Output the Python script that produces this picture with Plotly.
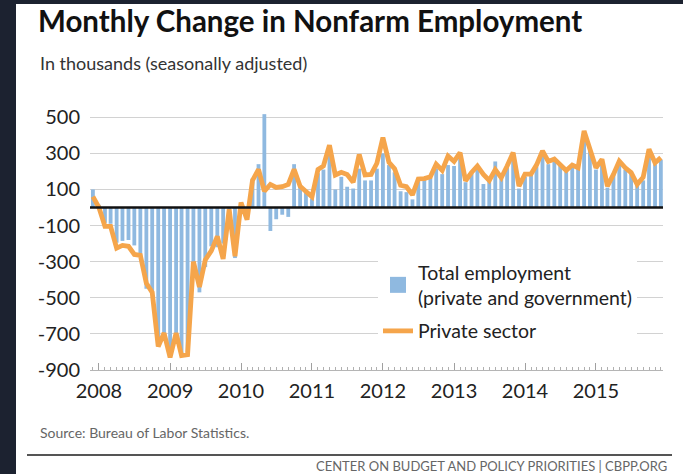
import pandas as pd
import plotly.graph_objects as go

# ---------------- data (thousands, seasonally adjusted) ----------------
months = pd.date_range("2007-12-01", "2015-12-01", freq="MS")

total_dec_2007 = [100]
total_2008 = [15, -85, -90, -195, -185, -180, -210, -270, -450, -480, -760, -700]
total_2009 = [-800, -700, -820, -800, -350, -470, -330, -215, -220, -200, -10, -280]
total_2010 = [20, -60, 160, 240, 517, -130, -65, -40, -52, 240, 120, 90]
total_2011 = [50, 190, 210, 300, 100, 170, 115, 105, 215, 150, 150, 215]
total_2012 = [300, 235, 195, 90, 85, 45, 146, 160, 165, 215, 185, 235]
total_2013 = [230, 280, 140, 190, 220, 130, 150, 255, 160, 220, 275, 105]
total_2014 = [170, 180, 225, 300, 240, 260, 230, 200, 240, 220, 410, 320]
total_2015 = [210, 260, 110, 180, 250, 210, 190, 130, 150, 300, 240, 265]

private_dec_2007 = [60]
private_2008 = [0, -105, -105, -225, -210, -215, -260, -265, -420, -470, -770, -695]
private_2009 = [-830, -695, -820, -815, -300, -440, -290, -240, -160, -285, -10, -270]
private_2010 = [28, -67, 150, 211, 90, 128, 111, 115, 128, 211, 118, 89]
private_2011 = [60, 211, 230, 345, 180, 195, 183, 140, 294, 180, 183, 245]
private_2012 = [387, 250, 215, 123, 115, 70, 158, 160, 170, 240, 205, 285]
private_2013 = [255, 304, 148, 194, 230, 183, 150, 210, 165, 230, 304, 118]
private_2014 = [185, 185, 235, 313, 255, 268, 235, 205, 235, 220, 424, 331]
private_2015 = [220, 267, 118, 183, 257, 220, 193, 128, 168, 322, 248, 276]

total = (total_dec_2007 + total_2008 + total_2009 + total_2010 + total_2011
         + total_2012 + total_2013 + total_2014 + total_2015)
private = (private_dec_2007 + private_2008 + private_2009 + private_2010 + private_2011
           + private_2012 + private_2013 + private_2014 + private_2015)

y_ticks = [500, 300, 100, -100, -300, -500, -700, -900]
y_tick_text = ["500", "300", "100", "-100", "-300", "-500", "-700", "-900"]

total_name = "Total employment<br>(private and government)"
private_name = "Private sector"

# ---------------- styles ----------------
BAR_BLUE = "#8fb9e0"
ORANGE = "#f5a54b"
GRID = "#d2d2d2"
FONT = "Lato"

# plot area in pixels (for placing page furniture)
W, H = 683, 474
L, R, T, B = 90, 20, 110, 104
PW, PH = W - L - R, H - T - B


def px(xp):
    return (xp - L) / PW


def py(yp):
    return (H - B - yp) / PH


fig = go.Figure()

fig.add_trace(go.Bar(
    x=months, y=total, name=total_name, marker_color=BAR_BLUE,
    marker_line_width=0, showlegend=False, legendgroup="total",
))
fig.add_trace(go.Scatter(
    x=months, y=private, name=private_name, mode="lines",
    line=dict(color=ORANGE, width=4.8), legendgroup="private", legendrank=2,
))
# legend swatch for the bars (larger square)
fig.add_trace(go.Scatter(
    x=[None], y=[None], name=total_name, mode="markers",
    marker=dict(symbol="square", size=16, color=BAR_BLUE),
    legendgroup="total", legendrank=1,
))

fig.update_layout(
    width=W, height=H,
    margin=dict(l=L, r=R, t=T, b=B, autoexpand=False),
    paper_bgcolor="white", plot_bgcolor="white",
    font=dict(family=FONT, color="#222222"),
    bargap=0.3,
    title=dict(
        text="<b>Monthly Change in Nonfarm Employment</b>",
        x=38 / W, xanchor="left", xref="container",
        y=1 - 22 / H, yanchor="middle", yref="container",
        font=dict(family=FONT, size=29.5, color="#111111"),
    ),
    xaxis=dict(
        type="date",
        range=["2007-11-16", "2015-12-12"],
        tick0="2008-01-01", dtick="M12", tickformat="%Y",
        ticks="inside", ticklen=7, tickcolor="#a0a0a0", tickwidth=1,
        minor=dict(dtick="M1", ticks="inside", ticklen=3, tickcolor="#b0b0b0", showgrid=False),
        showline=True, linecolor="#b5b5b5", linewidth=1,
        showgrid=False, zeroline=False,
        tickfont=dict(size=20, color="#222222"),
        ticklabelstandoff=3,
        fixedrange=True,
    ),
    yaxis=dict(
        range=[-900, 540],
        tickvals=y_ticks, ticktext=y_tick_text,
        showgrid=True, gridcolor=GRID, gridwidth=1,
        zeroline=False, showline=False, ticks="",
        tickfont=dict(size=20, color="#222222"),
        ticklabelstandoff=9,
        fixedrange=True,
    ),
    legend=dict(
        x=px(378), y=py(253), xanchor="left", yanchor="top",
        bgcolor="white", borderwidth=0,
        font=dict(size=19.5, color="#222222", family=FONT),
        tracegroupgap=5, itemwidth=30,
        traceorder="grouped",
    ),
    showlegend=True,
)

shapes = [
    # zero line
    dict(type="line", xref="paper", yref="y", x0=0, x1=1, y0=0, y1=0,
         line=dict(color="#111111", width=2.5), layer="above"),
    # dark frame strips (left and top)
    dict(type="rect", xref="paper", yref="paper",
         x0=px(0), x1=px(16), y0=py(H), y1=py(0),
         fillcolor="#1c2230", line_width=0, layer="above"),
    dict(type="rect", xref="paper", yref="paper",
         x0=px(0), x1=px(W), y0=py(4), y1=py(0),
         fillcolor="#1c2230", line_width=0, layer="above"),
    # footer rule
    dict(type="line", xref="paper", yref="paper",
         x0=px(27), x1=px(672), y0=py(455), y1=py(455),
         line=dict(color="#555555", width=2), layer="above"),
]
fig.update_layout(shapes=shapes)

fig.add_annotation(text="In thousands (seasonally adjusted)", xref="paper", yref="paper",
                   x=px(38), y=py(63), xanchor="left", yanchor="middle", showarrow=False,
                   font=dict(family=FONT, size=18, color="#333333"))
fig.add_annotation(text="Source: Bureau of Labor Statistics.", xref="paper", yref="paper",
                   x=px(38), y=py(432), xanchor="left", yanchor="middle", showarrow=False,
                   font=dict(family=FONT, size=14, color="#666666"))
fig.add_annotation(text="CENTER ON BUDGET AND POLICY PRIORITIES | CBPP.ORG", xref="paper", yref="paper",
                   x=px(669), y=py(466), xanchor="right", yanchor="middle", showarrow=False,
                   font=dict(family=FONT, size=13, color="#666666"))

fig.write_html("out.html", config={"displayModeBar": False},
               post_script="document.body.style.margin='0';")
